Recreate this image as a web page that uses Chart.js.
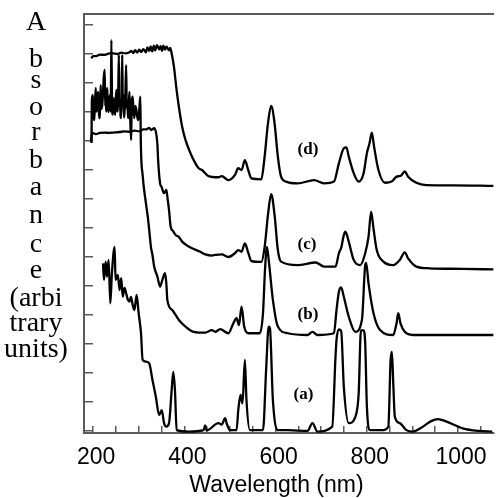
<!DOCTYPE html>
<html><head><meta charset="utf-8">
<script src="https://cdn.jsdelivr.net/npm/chart.js@4/dist/chart.umd.min.js"></script>
<style>html,body{margin:0;padding:0;background:#fff;overflow:hidden}#wrap{width:499px;height:498px;position:relative}</style>
</head><body><div id="wrap"><canvas id="c" width="499" height="498"></canvas></div>
<script>
// ---- data (wavelength in nm, absorbance in arbitrary units, curves offset) ----
const curveDNm = [196,200,207,214.5,225,236,243,253.6,262,271,279.6,284,288,292,297,301,305.6,310,315.8,319,323,326,329.5,333,336,340,344.7,348,351,354,357.7,361,366.3,369,372.2,377.2,382.2,388,395.2,402.6,413.4,424.3,431.4,438.6,453,474.4,482,496.5,511,518,525.4,532.7,540,547,568.7,576,583.3,590.4,597.8,605,612,623,648.3,684.5,706.2,728,738.8,749.6,755.3,760.5,771.3,782.2,793,800.2,806,811,816,825.5,839.9,854.4,865.2,874.6,883.2,890.6,908.6,930.3,988.2,1078];
const curveDAbs = [12.84,12.92,12.92,12.97,12.96,13.01,13.01,12.99,13.04,13.01,13.05,13.10,13.02,13.12,13.04,13.14,13.06,13.16,13.05,13.22,13.10,13.25,13.08,13.28,13.12,13.30,13.15,13.26,13.10,13.28,13.14,13.24,13.12,13.20,13.01,12.55,11.86,11.17,10.48,10.02,9.57,9.22,9.05,8.99,8.78,8.74,8.78,8.64,8.82,9.05,8.99,9.33,8.99,8.70,8.67,9.45,10.6,11.2,10.6,9.45,8.76,8.59,8.53,8.64,8.53,8.59,9.22,9.74,9.77,9.45,8.88,8.59,8.88,9.57,9.91,10.28,9.79,8.99,8.55,8.59,8.76,8.79,8.94,8.76,8.55,8.47,8.46,8.44];

const curveCNm = [195,198,206,214.5,225,236,243,258,268.8,279.6,290.4,301.3,310,315.8,323,327.3,333.8,338.8,341,342.5,346.8,350,355.5,360.5,362.7,366.4,370,375,380.9,388,395.2,405.4,416.9,435.1,446,460.3,467.7,482,496.5,511,518.2,525.4,532.7,540,547,568.7,576,583.3,590.4,597.8,605,612,648.3,688,706.2,731.4,738.8,744.4,749,753,760.4,771.3,785.6,796.5,803.8,809.5,814.6,821.8,836.4,858,872.4,883.2,890.6,908.6,937.5,1010,1078];
const curveCAbs = [9.97,10.27,10.23,10.27,10.28,10.27,10.28,10.30,10.32,10.31,10.35,10.32,10.39,10.39,10.44,10.37,10.43,10.2,9.85,9.33,8.53,8.41,8.19,8.30,8.07,7.61,7.03,6.89,6.75,6.68,6.52,6.39,6.29,6.17,6.08,6.04,6.06,6.08,5.99,6.12,6.23,6.17,6.46,6.14,5.85,5.82,6.33,7.44,8.16,7.44,6.23,5.83,5.71,5.80,5.66,5.66,6.12,6.34,6.71,6.86,6.52,5.89,5.71,6.12,6.69,7.55,6.98,6.23,5.83,5.71,5.89,6.15,5.94,5.66,5.60,5.58,5.56];

const curveBNm = [196.5,197.2,199.3,201,202.6,204,205.9,207,208,209.5,211.3,213,214.5,215.5,216.7,218,220,221.5,223.2,225.4,226.5,227.5,229,230.8,232,234,235.5,237.3,238.5,240,241.6,243,244.9,246.5,248.2,249.8,251.4,252.5,253.6,255,256.4,257.5,259,260,261.2,262.5,263.8,265,266.6,267.8,268.8,270.5,272.4,273.8,275.3,276.3,277.4,278.5,279.6,281.5,283.3,284.2,285,286.8,288.5,290.4,292.5,294.8,297,299.1,301.3,303.5,304.5,308.5,315.8,319.3,323,326.7,330.1,333.8,341,346.8,351.8,357.7,360.5,362.7,373.5,388,402.6,420.6,446,460.3,467.7,478.5,496.5,507.3,514.5,519.7,525.4,531.2,540,565.3,572.4,576.8,581.1,585.4,594.1,605,626.7,670,680.9,691.7,728,733.6,738.8,743.8,749.6,760.5,774.8,789.3,796.5,798.6,803.8,814.7,829,858,865.2,868.9,873.9,883.2,901.4,1078];
const curveBAbs = [9.92,11.40,11.58,10.9,10.71,11.3,11.82,11.0,11.06,11.5,11.68,10.9,10.78,11.3,11.92,11.1,11.23,11.6,12.16,12.44,11.2,11.40,11.0,11.82,11.3,10.99,11.4,11.58,11.0,13.47,11.23,10.9,11.47,11.1,10.89,11.5,11.75,11.0,11.06,11.6,12.96,11.2,11.40,10.9,10.78,11.4,12.96,11.3,11.58,10.8,10.99,11.5,12.61,11.1,11.40,10.9,10.78,11.3,11.68,10.7,10.02,10.9,11.40,11.52,11.0,10.78,11.2,11.06,10.8,10.71,11.1,11.52,10.02,8.82,7.84,7.44,6.92,6.34,6.06,5.66,5.31,4.97,5.20,5.43,5.08,4.51,4.16,3.82,3.59,3.41,3.38,3.47,3.41,3.50,3.36,3.70,3.88,3.64,4.28,3.59,3.36,3.36,4.05,5.54,6.34,5.82,4.51,3.59,3.36,3.30,3.41,3.30,3.36,4.16,4.79,4.94,4.62,3.93,3.41,3.82,5.71,5.79,5.08,4.05,3.47,3.30,3.70,4.05,3.70,3.41,3.30,3.30];

const curveANm = [221.7,223.9,227.5,230.4,234,237.7,241.2,247.1,249.2,254.2,257.9,261.6,265,268.8,272.4,276.3,279.6,282.9,286.8,290.4,295.4,299.8,305,308.5,315.8,323,330.1,337.5,344.7,350.5,355.5,360.5,366.4,372.2,375.7,379.4,383.1,409.7,442.3,445.5,448.8,474.8,482,489.3,493.2,500.2,514.5,518.2,523.2,527.5,532.7,536.2,543.6,572.4,579.6,584.8,587.6,594.1,605,626.7,670,680.9,691.7,724.2,731.4,733.6,738.8,743.8,749.6,760.5,774.8,782.2,787.1,793,796.5,800.2,807.3,836.4,847.2,852.2,855,858,861.5,872.4,879.8,886.9,901.4,923.1,941.1,956.3,973.7,1010,1046,1075];
const curveAAbs = [5.77,5.20,5.83,5.31,5.89,4.39,5.43,6.34,5.20,5.37,4.85,5.26,4.62,4.92,4.74,4.51,4.45,4.61,4.33,4.16,4.68,4.05,3.36,2.44,2.38,2.32,1.75,1.17,0.54,0.71,0.26,0.14,0.26,1.40,2.03,1.40,0.02,-0.03,0.02,0.18,0.01,0.26,0.21,0.43,0.23,0.02,0.02,0.71,1.23,0.94,2.44,1.06,0.02,0.02,2.21,3.59,3.54,1.06,0.02,0.02,-0.01,0.26,-0.03,0.14,2.55,3.13,3.49,3.44,1.52,0.26,0.48,1.29,3.46,3.46,3.01,0.83,0.02,0.02,0.14,2.44,2.72,1.63,0.48,0.26,0.14,0.02,-0.03,0.14,0.33,0.40,0.32,0.08,-0.01,-0.03];

const xTickValues = [200,250,300,350,400,450,500,550,600,650,700,750,800,850,900,950,1000,1050];
const xTickLabels = [200,400,600,800,1000];
const yTickValues = [0,1,2,3,4,5,6,7,8,9,10,11,12,13,14];
const curveLabels = ['(a)','(b)','(c)','(d)'];
const curveLabelNm = [661,671,669,671];
const curveLabelAbs = [1.23,4.02,6.40,9.68];
const xTitle = 'Wavelength (nm)';
const yTitleLines = ['A','b','s','o','r','b','a','n','c','e','(arbi','trary','units)'];

// ---- layout / style ----
const yTitleBaselines = [30,67,88,115,140,168,195,223,252,278,306,331,357];
const axisColor = '#5a5a5a';

function pts(xs, ys){ const n=Math.min(xs.length, ys.length); const out=[]; for(let i=0;i<n;i++) out.push({x:xs[i], y:ys[i]}); return out; }

const textPlugin = {
  id:'texts',
  afterDraw(chart){
    const ctx = chart.ctx; const xs = chart.scales.x, ys = chart.scales.y;
    ctx.save();
    ctx.fillStyle = '#000';
    ctx.textAlign = 'center'; ctx.textBaseline = 'alphabetic';
    ctx.font = '28px "Liberation Serif", "Times New Roman", serif';
    yTitleLines.forEach((t,i)=>{ ctx.fillText(t, 36, yTitleBaselines[i]); });
    ctx.font = 'bold 17px "Liberation Serif", "Times New Roman", serif';
    ctx.textBaseline = 'middle';
    curveLabels.forEach((t,i)=>{ ctx.fillText(t, xs.getPixelForValue(curveLabelNm[i]), ys.getPixelForValue(curveLabelAbs[i])); });
    ctx.font = '23px "Liberation Sans", Arial, sans-serif';
    ctx.textBaseline = 'alphabetic';
    ctx.fillText(xTitle, 276.5, 491.5);
    ctx.restore();
  }
};

const ds = (label, xs, ys) => ({label, data: pts(xs, ys), borderColor:'#000', backgroundColor:'#000', borderWidth:2.3, pointRadius:0, cubicInterpolationMode:'monotone', fill:false, borderJoinStyle:'round'});

new Chart(document.getElementById('c').getContext('2d'), {
  type:'line',
  data:{ datasets:[ ds('(a)', curveANm, curveAAbs), ds('(b)', curveBNm, curveBAbs), ds('(c)', curveCNm, curveCAbs), ds('(d)', curveDNm, curveDAbs) ] },
  options:{
    responsive:false, animation:false, devicePixelRatio:1,
    layout:{ padding:{ top:14, right:1, left:0, bottom:0 } },
    plugins:{ legend:{display:false}, tooltip:{enabled:false}, title:{display:false} },
    scales:{
      x:{ type:'linear', position:'bottom', min:180, max:1078,
          afterBuildTicks:s=>{ s.ticks = xTickValues.map(v=>({value:v})); },
          afterFit:s=>{ s.height = 65; },
          ticks:{ autoSkip:false, maxRotation:0, minRotation:0, padding:18, labelOffset:3, color:'#000',
                  font:{ family:'"Liberation Sans", Arial, sans-serif', size:23 },
                  callback:v=> xTickLabels.includes(v) ? String(v) : '' },
          grid:{ drawOnChartArea:false, drawTicks:true, tickLength:-7, color:axisColor, lineWidth:1.5 },
          border:{ display:true, color:axisColor, width:2 } },
      x2:{ type:'linear', position:'top', min:180, max:1078,
           afterFit:s=>{ s.height = 0; },
           ticks:{ display:false }, grid:{ drawOnChartArea:false, drawTicks:false },
           border:{ display:true, color:axisColor, width:2 } },
      y:{ type:'linear', position:'left', min:-0.08, max:14.37,
          afterBuildTicks:s=>{ s.ticks = yTickValues.map(v=>({value:v})); },
          afterFit:s=>{ s.width = 84; },
          ticks:{ display:false },
          grid:{ drawOnChartArea:false, drawTicks:true, tickLength:-9, color:axisColor, lineWidth:1.5 },
          border:{ display:true, color:axisColor, width:2 } }
    }
  },
  plugins:[textPlugin]
});
</script>
</body></html>
